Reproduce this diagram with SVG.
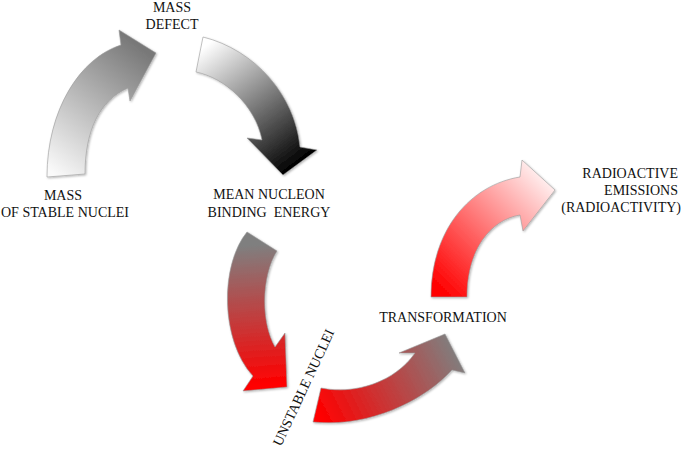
<svg xmlns="http://www.w3.org/2000/svg" width="685" height="456" viewBox="0 0 685 456">
<defs>
<style>
.lbl{font-family:"Liberation Serif","Times New Roman",serif;font-size:14px;fill:#111;}
.arr{stroke:#9a9a9a;stroke-width:0.6;filter:url(#sh);}
</style>
<filter id="sh" x="-10%" y="-10%" width="130%" height="130%">
<feDropShadow dx="1" dy="1" stdDeviation="1" flood-color="#000" flood-opacity="0.3"/>
</filter>
<linearGradient id="g1" gradientUnits="userSpaceOnUse" x1="55" y1="175" x2="150" y2="55">
<stop offset="0" stop-color="#fafafa"/><stop offset="1" stop-color="#787878"/>
</linearGradient>
<linearGradient id="g2" gradientUnits="userSpaceOnUse" x1="200" y1="50" x2="290" y2="170">
<stop offset="0" stop-color="#ffffff"/><stop offset="1" stop-color="#000000"/>
</linearGradient>
<linearGradient id="g3" gradientUnits="userSpaceOnUse" x1="255" y1="245" x2="265" y2="385">
<stop offset="0" stop-color="#7f7f7f"/><stop offset="1" stop-color="#ff0000"/>
</linearGradient>
<linearGradient id="g4" gradientUnits="userSpaceOnUse" x1="320" y1="415" x2="455" y2="345">
<stop offset="0" stop-color="#ff0000"/><stop offset="1" stop-color="#7f7f7f"/>
</linearGradient>
<linearGradient id="g5" gradientUnits="userSpaceOnUse" x1="440" y1="290" x2="550" y2="180">
<stop offset="0" stop-color="#ff0000"/><stop offset="1" stop-color="#fff2f2"/>
</linearGradient>
</defs>
<rect width="685" height="456" fill="#fff"/>
<g id="connectors">
<path id="arrow1" class="arr" fill="url(#g1)" d="M47,177 C47,110 80,58 121,45 L119,30 L156,53 L130,101 L128,88 C100,100 85,130 85,174 Z"/>
<path id="arrow2" class="arr" fill="url(#g2)" d="M203,37 C255,50 295,95 300,147 L317,150 L283,175 L247,138 L262,140 C255,105 225,78 196,72 Z"/>
<path id="arrow3" class="arr" fill="url(#g3)" d="M247,232 C220,265 220,340 253,376 L243,391 L287,387 L285,333 L275,347 C260,320 262,275 277,251 Z"/>
<path id="arrow4" class="arr" fill="url(#g4)" d="M313,422 C370,428 425,400 452,370 L465,373 L445,334 L399,353 L415,353 C395,382 355,395 321,388 Z"/>
<path id="arrow5" class="arr" fill="url(#g5)" d="M431,297 C431,230 470,185 520,177 L522,160 L555,190 L523,231 L520,215 C490,220 467,250 467,297 Z"/>
</g>
<g id="mass-defect">
<text class="lbl" x="172" y="12" text-anchor="middle">MASS</text>
<text class="lbl" x="172" y="29" text-anchor="middle">DEFECT</text>
</g>
<g id="mass-stable">
<text class="lbl" x="63" y="200" text-anchor="middle">MASS</text>
<text class="lbl" x="65" y="217" text-anchor="middle">OF STABLE NUCLEI</text>
</g>
<g id="mean-binding">
<text class="lbl" x="269" y="199" text-anchor="middle">MEAN NUCLEON</text>
<text class="lbl" x="269" y="217" text-anchor="middle" xml:space="preserve">BINDING  ENERGY</text>
</g>
<g id="unstable">
<text class="lbl" transform="translate(281,447) rotate(-65)">UNSTABLE NUCLEI</text>
</g>
<g id="transformation">
<text class="lbl" x="443" y="322" text-anchor="middle">TRANSFORMATION</text>
</g>
<g id="radioactive">
<text class="lbl" x="678" y="178" text-anchor="end">RADIOACTIVE</text>
<text class="lbl" x="678" y="195" text-anchor="end">EMISSIONS</text>
<text class="lbl" x="681" y="212" text-anchor="end">(RADIOACTIVITY)</text>
</g>
</svg>
